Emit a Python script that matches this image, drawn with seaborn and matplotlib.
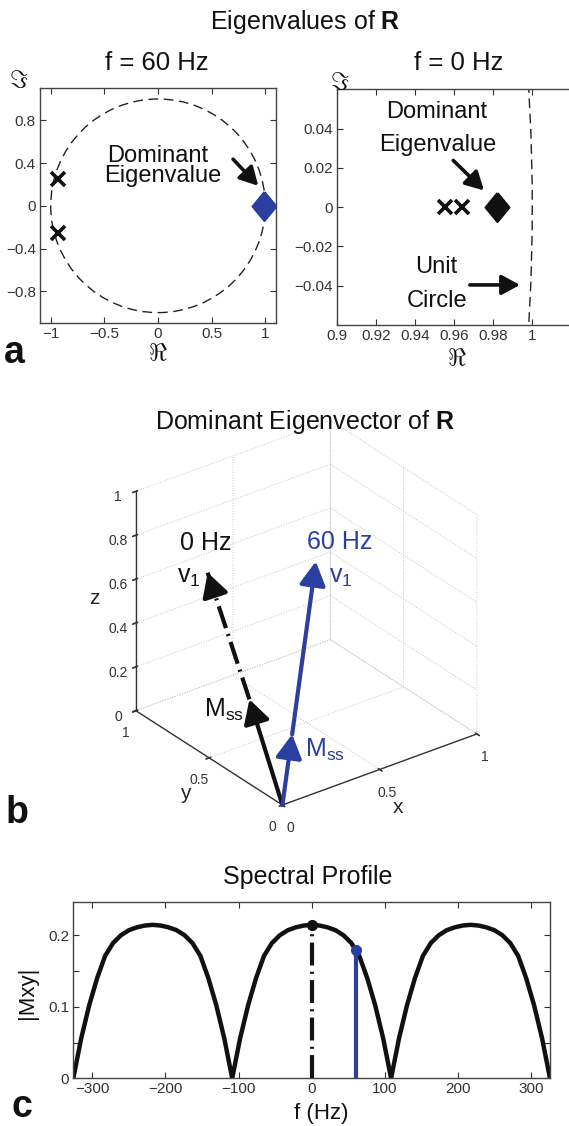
import numpy as np
import matplotlib
matplotlib.use("Agg")
import matplotlib.pyplot as plt
import pandas as pd
import seaborn as sns
from matplotlib.patches import Circle, FancyArrowPatch
from mpl_toolkits.mplot3d import proj3d

W, H = 569, 1126
BLUE = "#2a3f9f"
INK = "#111111"
DASHDOT = (0, (5.5, 1.5, 0.5, 1.5))

# eigenvalues of R, f = 60 Hz
eig60_re = [-0.93, -0.93]
eig60_im = [0.25, -0.25]
dom60_re = [0.99]
dom60_im = [0.0]

# eigenvalues of R, f = 0 Hz
eig0_re = [0.9556, 0.9642]
eig0_im = [0.0, 0.0]
dom0_re = [0.9818]
dom0_im = [0.0]

# steady state and dominant eigenvector (x, y, z)
mss_0hz = [0.0, 0.225, 0.385]
v1_0hz = [0.0, 0.51, 0.84]
mss_60hz = [0.087, 0.049, 0.273]
v1_60hz = [0.30, 0.17, 0.94]

# spectral profile |Mxy| sampled every ~10.9 Hz from -326 to 326 Hz
freq_hz = np.linspace(-326, 326, 61)
mxy = [0.000, 0.056, 0.102, 0.140, 0.171, 0.189, 0.200, 0.207, 0.211, 0.2135,
       0.2145, 0.2135, 0.211, 0.207, 0.200, 0.189, 0.171, 0.140, 0.102, 0.056,
       0.000, 0.056, 0.102, 0.140, 0.171, 0.189, 0.200, 0.207, 0.211, 0.2135,
       0.2145, 0.2135, 0.211, 0.207, 0.200, 0.189, 0.171, 0.140, 0.102, 0.056,
       0.000, 0.056, 0.102, 0.140, 0.171, 0.189, 0.200, 0.207, 0.211, 0.2135,
       0.2145, 0.2135, 0.211, 0.207, 0.200, 0.189, 0.171, 0.140, 0.102, 0.056,
       0.000]
mark_f = [0, 60]
mark_mxy = [0.2145, 0.180]

sns.set_theme(style="white", context="notebook")
plt.rcParams["font.family"] = ["Liberation Sans", "DejaVu Sans"]
plt.rcParams["mathtext.fontset"] = "custom"
plt.rcParams["mathtext.rm"] = "Liberation Sans"
plt.rcParams["mathtext.bf"] = "Liberation Sans:bold"
plt.rcParams["mathtext.it"] = "Liberation Sans:italic"
plt.rcParams["axes.edgecolor"] = "#444444"
plt.rcParams["axes.linewidth"] = 1.0
plt.rcParams["text.color"] = INK


def fx(px):
    return px / W


def fy(py):
    return 1 - py / H


def box_ticks(ax):
    for which in ("major", "minor"):
        ax.tick_params(which=which, direction="in", bottom=True, left=True,
                       top=True, right=True, length=4, width=0.8,
                       colors="#333333")
    ax.tick_params(labelsize=11, pad=3)
    for s in ax.spines.values():
        s.set_color("#444444")


class Arrow3D(FancyArrowPatch):
    def __init__(self, xs, ys, zs, *args, **kwargs):
        super().__init__((0, 0), (0, 0), *args, **kwargs)
        self._verts3d = xs, ys, zs

    def do_3d_projection(self, renderer=None):
        xs3d, ys3d, zs3d = self._verts3d
        xs, ys, zs = proj3d.proj_transform(xs3d, ys3d, zs3d, self.axes.M)
        self.set_positions((xs[0], ys[0]), (xs[1], ys[1]))
        return np.min(zs)


def arrow3d(ax, start, end, color):
    a = Arrow3D([start[0], end[0]], [start[1], end[1]], [start[2], end[2]],
                arrowstyle="-|>,head_length=0.65,head_width=0.36",
                mutation_scale=22, lw=3, color=color, shrinkA=0, shrinkB=0)
    ax.add_artist(a)


diamond = [(0, 1), (0.82, 0), (0, -1), (-0.82, 0), (0, 1)]
arrow_kw = dict(arrowstyle="-|>,head_length=0.55,head_width=0.3", lw=2.6,
                color=INK, mutation_scale=20, shrinkA=0, shrinkB=0)

fig = plt.figure(figsize=(W / 100, H / 100), dpi=100)

# ---- panel a, f = 60 Hz
ax1 = fig.add_axes([fx(40), fy(323.3), 236 / W, 235 / H])
ax1.add_patch(Circle((0, 0), 1, fill=False, ls=(0, (7, 4)), lw=1.0, ec="#222222"))
ax1.plot(eig60_re, eig60_im, ls="none", marker="x", ms=10, mew=2.6, color=INK)
sns.scatterplot(x=dom60_re, y=dom60_im, marker=diamond, s=430, color=BLUE,
                edgecolor=BLUE, ax=ax1, zorder=3, legend=False)
ax1.set_xlim(-1.1, 1.1)
ax1.set_ylim(-1.1, 1.1)
ax1.set_xticks([-1, -0.5, 0, 0.5, 1])
ax1.set_xticklabels(["\u22121", "\u22120.5", "0", "0.5", "1"])
ax1.set_yticks([-0.8, -0.4, 0, 0.4, 0.8])
ax1.set_yticklabels(["\u22120.8", "\u22120.4", "0", "0.4", "0.8"])
box_ticks(ax1)
ax1.text(0.0, 0.467, "Dominant", ha="center", va="center", fontsize=17)
ax1.text(0.044, 0.28, "Eigenvalue", ha="center", va="center", fontsize=17)
ax1.annotate("", xy=(0.935, 0.187), xytext=(0.70, 0.436), arrowprops=arrow_kw)

# ---- panel a, f = 0 Hz
ax2 = fig.add_axes([fx(336.7), fy(325), 273.8 / W, 235.7 / H])
ax2.add_patch(Circle((0, 0), 1, fill=False, ls=(0, (7, 4)), lw=1.0, ec="#222222"))
ax2.plot(eig0_re, eig0_im, ls="none", marker="x", ms=10, mew=2.6, color=INK)
sns.scatterplot(x=dom0_re, y=dom0_im, marker=diamond, s=430, color=INK,
                edgecolor=INK, ax=ax2, zorder=3, legend=False)
ax2.set_xlim(0.9, 1.04)
ax2.set_ylim(-0.06, 0.06)
ax2.set_xticks([0.9, 0.92, 0.94, 0.96, 0.98, 1])
ax2.set_xticklabels(["0.9", "0.92", "0.94", "0.96", "0.98", "1"])
ax2.set_yticks([-0.04, -0.02, 0, 0.02, 0.04])
ax2.set_yticklabels(["\u22120.04", "\u22120.02", "0", "0.02", "0.04"])
box_ticks(ax2)
ax2.text(0.9511, 0.0485, "Dominant", ha="center", va="center", fontsize=17)
ax2.text(0.9515, 0.0315, "Eigenvalue", ha="center", va="center", fontsize=17)
ax2.text(0.9511, -0.0306, "Unit", ha="center", va="center", fontsize=17)
ax2.text(0.9515, -0.0476, "Circle", ha="center", va="center", fontsize=17)
ax2.annotate("", xy=(0.9753, 0.0085), xytext=(0.9596, 0.0238), arrowprops=arrow_kw)
ax2.annotate("", xy=(0.9937, -0.0396), xytext=(0.9681, -0.0396), arrowprops=arrow_kw)

fig.text(0.536, fy(22), r"Eigenvalues of $\mathbf{R}$", ha="center", va="center", fontsize=18)
fig.text(fx(156.7), fy(63.3), "f = 60 Hz", ha="center", va="center", fontsize=18.5)
fig.text(fx(459), fy(63), "f = 0 Hz", ha="center", va="center", fontsize=18.5)
for px, py in [(18.3, 80), (340, 81.7)]:
    fig.text(fx(px), fy(py), r"$\Im$", ha="center", va="center", fontsize=18,
             math_fontfamily="cm")
for px, py in [(158, 353), (456.7, 358)]:
    fig.text(fx(px), fy(py), r"$\Re$", ha="center", va="center", fontsize=18,
             math_fontfamily="cm")
fig.text(fx(14), fy(353), "a", ha="center", va="center", fontsize=27, fontweight="bold")

# ---- panel b, 3D vectors
side = 0.7
ax3 = fig.add_axes([0.08, 0.27, side, side * W / H], projection="3d",
                   proj_type="ortho", computed_zorder=False)
ax3.view_init(elev=29, azim=-127)
ax3.set_xlim(0, 1)
ax3.set_ylim(0, 1)
ax3.set_zlim(0, 1)
ax3.set_box_aspect((1, 1, 1.03))
for axis in (ax3.xaxis, ax3.yaxis, ax3.zaxis):
    axis.set_pane_color((1, 1, 1, 0))
    axis._axinfo["grid"].update(color="#c4c4c4", linewidth=0.7, linestyle=":")
    axis.line.set_color("#333333")
    axis.line.set_linewidth(1.0)
ax3.set_xticks([0, 0.5, 1])
ax3.set_xticklabels(["0", "0.5", "1"])
ax3.set_yticks([0, 0.5, 1])
ax3.set_yticklabels(["0", "0.5", "1"])
ax3.set_zticks([0, 0.2, 0.4, 0.6, 0.8, 1])
ax3.set_zticklabels(["0", "0.2", "0.4", "0.6", "0.8", "1"])
ax3.tick_params(labelsize=10, colors="#333333", pad=0)
ax3.set_xlabel("x", fontsize=15, labelpad=-2)
ax3.set_ylabel("y", fontsize=15, labelpad=-2)
ax3.set_zlabel("z", fontsize=15, labelpad=-2)

tip_0 = [v - 0.08 * (v - m) for v, m in zip(v1_0hz, mss_0hz)]
ax3.plot([mss_0hz[0], v1_0hz[0]], [mss_0hz[1], v1_0hz[1]], [mss_0hz[2], v1_0hz[2]],
         color=INK, lw=3, ls=DASHDOT)
arrow3d(ax3, [0, 0, 0], mss_0hz, INK)
arrow3d(ax3, tip_0, v1_0hz, INK)
arrow3d(ax3, [0, 0, 0], mss_60hz, BLUE)
arrow3d(ax3, mss_60hz, v1_60hz, BLUE)

# place the 3D box so its origin and axis ends land where the reference has them
fig.canvas.draw()


def screen(ax, p):
    xs, ys, _ = proj3d.proj_transform(p[0], p[1], p[2], ax.get_proj())
    return ax.transData.transform((xs, ys))


o = screen(ax3, (0, 0, 0))
xe = screen(ax3, (1, 0, 0))
ye = screen(ax3, (0, 1, 0))
o_t = (282.4, H - 805)
scale = (476.7 - 135.7) / (xe[0] - ye[0])
pos = ax3.get_position(original=True)
x0, y0, w0, h0 = pos.x0 * W, pos.y0 * H, pos.width * W, pos.height * H
nx0 = o_t[0] - (o[0] - x0) * scale
ny0 = o_t[1] - (o[1] - y0) * scale
ax3.set_position([nx0 / W, ny0 / H, w0 * scale / W, h0 * scale / H])

fig.text(0.536, fy(421.7), r"Dominant Eigenvector of $\mathbf{R}$", ha="center",
         va="center", fontsize=18)
fig.text(fx(205.4), fy(543.3), "0 Hz", ha="center", va="center", fontsize=18, color=INK)
fig.text(fx(188.8), fy(577), r"$\mathrm{v}_1$", ha="center", va="center", fontsize=18, color=INK)
fig.text(fx(223.7), fy(710), r"$\mathrm{M}_{\mathrm{ss}}$", ha="center", va="center",
         fontsize=18, color=INK)
fig.text(fx(339.5), fy(541.7), "60 Hz", ha="center", va="center", fontsize=18, color=BLUE)
fig.text(fx(341), fy(577), r"$\mathrm{v}_1$", ha="center", va="center", fontsize=18, color=BLUE)
fig.text(fx(324.5), fy(750), r"$\mathrm{M}_{\mathrm{ss}}$", ha="center", va="center",
         fontsize=18, color=BLUE)
fig.text(fx(16.5), fy(813), "b", ha="center", va="center", fontsize=27, fontweight="bold")

# ---- panel c, spectral profile
axc = fig.add_axes([fx(73.3), fy(1078.3), (550 - 73.3) / W, 176 / H])
df = pd.DataFrame({"f": freq_hz, "mxy": mxy})
sns.lineplot(data=df, x="f", y="mxy", color=INK, lw=3.2, ax=axc, sort=False)
axc.plot([mark_f[0], mark_f[0]], [0, mark_mxy[0]], color=INK, lw=3, ls=DASHDOT)
axc.plot([mark_f[1], mark_f[1]], [0, mark_mxy[1]], color=BLUE, lw=3)
axc.plot(mark_f[:1], mark_mxy[:1], "o", color=INK, ms=7)
axc.plot(mark_f[1:], mark_mxy[1:], "o", color=BLUE, ms=7)
axc.set_xlim(-326, 326)
axc.set_ylim(0, 0.246)
axc.set_xticks([-300, -200, -100, 0, 100, 200, 300])
axc.set_xticklabels(["\u2212300", "\u2212200", "\u2212100", "0", "100", "200", "300"])
axc.set_yticks([0, 0.1, 0.2])
axc.set_yticklabels(["0", "0.1", "0.2"])
axc.set_yticks([0.05, 0.15], minor=True)
axc.set_xlabel("")
axc.set_ylabel("")
box_ticks(axc)

fig.text(fx(308), fy(877), "Spectral Profile", ha="center", va="center", fontsize=18)
fig.text(fx(27.5), fy(993), "|Mxy|", ha="center", va="center", fontsize=16, rotation=90)
fig.text(fx(321.7), fy(1113), "f (Hz)", ha="center", va="center", fontsize=16)
fig.text(fx(22), fy(1106.7), "c", ha="center", va="center", fontsize=27, fontweight="bold")

fig.savefig("out.png", dpi=100)
